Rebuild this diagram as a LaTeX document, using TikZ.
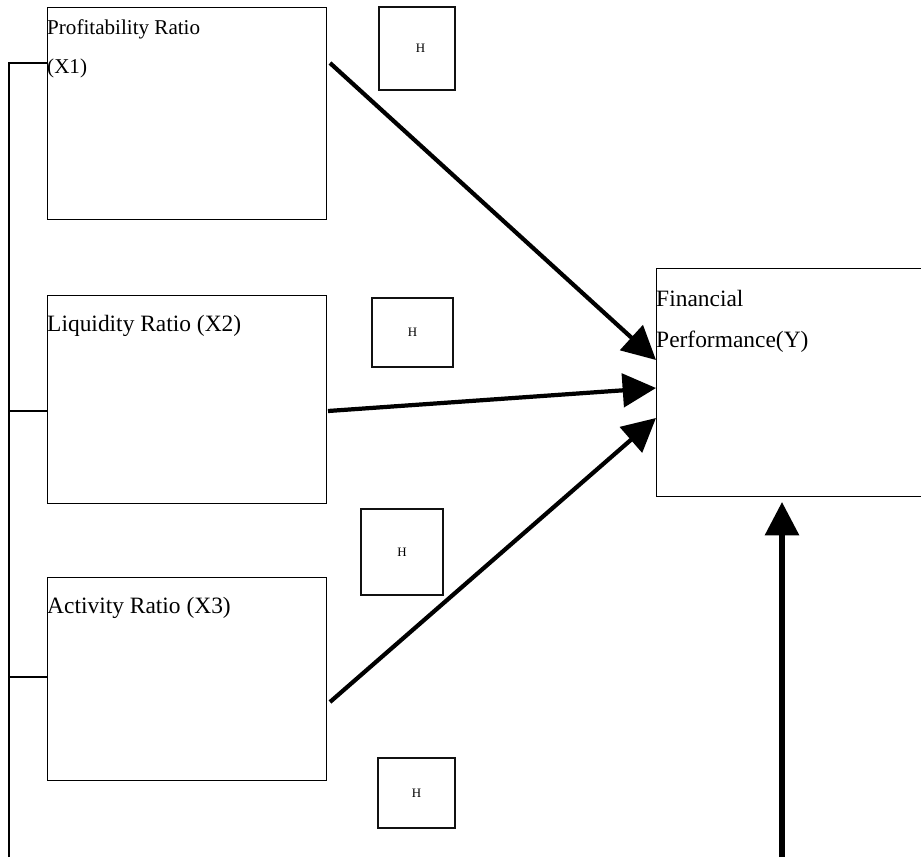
\documentclass[tikz,border=0pt]{standalone}
\usepackage{fontspec}
\setmainfont{Liberation Serif}
\usetikzlibrary{arrows.meta}
\definecolor{RatioLine}{HTML}{000000}
\definecolor{HypoEdge}{HTML}{111111}

\begin{document}
\begin{tikzpicture}[x=0.03cm,y=-0.03cm,
    ratiobox/.style={draw=RatioLine,line width=0.8pt,inner sep=0pt,outer sep=0pt},
    hbox/.style={draw=HypoEdge,line width=1.7pt,inner sep=0pt,outer sep=0pt,
      font=\fontsize{11pt}{11pt}\selectfont},
    lbl/.style={anchor=north west,inner sep=0pt,align=left,font=\fontsize{20pt}{30pt}\selectfont},
    effect/.style={line width=3.6pt,-{Triangle[length=1cm,width=1cm]}},
    bracket/.style={line width=1.6pt}]
      \useasboundingbox (0,0) rectangle (921,857);
      % ratio boxes
      \node[ratiobox,minimum width=8.37cm,minimum height=6.36cm] (x1) at (186.5,113) {};
      \node[ratiobox,minimum width=8.37cm,minimum height=6.24cm] (x2) at (186.5,399) {};
      \node[ratiobox,minimum width=8.37cm,minimum height=6.09cm] (x3) at (186.5,678.5) {};
      \node[ratiobox,minimum width=7.95cm,minimum height=6.84cm] (y) at (788.5,382) {};
      \node[lbl,font=\fontsize{18pt}{34pt}\selectfont] (x1t) at (47,19) {Profitability Ratio\\(X1)};
      \node[lbl] (x2t) at (47,315) {Liquidity Ratio (X2)};
      \node[lbl] (x3t) at (47,597) {Activity Ratio (X3)};
      \node[lbl,font=\fontsize{20pt}{35pt}\selectfont] (yt) at (656,290) {Financial\\Performance(Y)};
      % hypothesis boxes
      \node[hbox,minimum width=2.28cm,minimum height=2.49cm] (h1) at (417,48.5) {\hspace{6pt}H};
      \node[hbox,minimum width=2.43cm,minimum height=2.07cm] (h2) at (412.5,332.5) {H};
      \node[hbox,minimum width=2.46cm,minimum height=2.58cm] (h3) at (402,552) {H};
      \node[hbox,minimum width=2.31cm,minimum height=2.10cm] (h4) at (416.5,793) {H};
      % arrows
      \draw[effect] ([shift={(4,56)}]x1.north east) -- ([shift={(0,92)}]y.north west);
      \draw[effect] ([shift={(2,12)}]x2.east) -- ([shift={(0,120)}]y.north west);
      \draw[effect] ([shift={(4,125)}]x3.north east) -- ([shift={(0,150)}]y.north west);
      \coordinate (ybase) at (782,857);
      \coordinate (ytip) at ([shift={(0,6)}]y.south);
      \draw[effect,line width=4.4pt] (ybase) -- (ybase |- ytip);
      % left bracket
      \coordinate (brbot) at (9,857);
      \coordinate (st1) at ([shift={(0,56)}]x1.north west);
      \coordinate (st2) at ([shift={(0,12)}]x2.west);
      \coordinate (st3) at ([shift={(0,100)}]x3.north west);
      \draw[bracket] (brbot) |- (st1);
      \draw[bracket] (st2) -- (brbot |- st2);
      \draw[bracket] (st3) -- (brbot |- st3);
    \end{tikzpicture}
\end{document}
